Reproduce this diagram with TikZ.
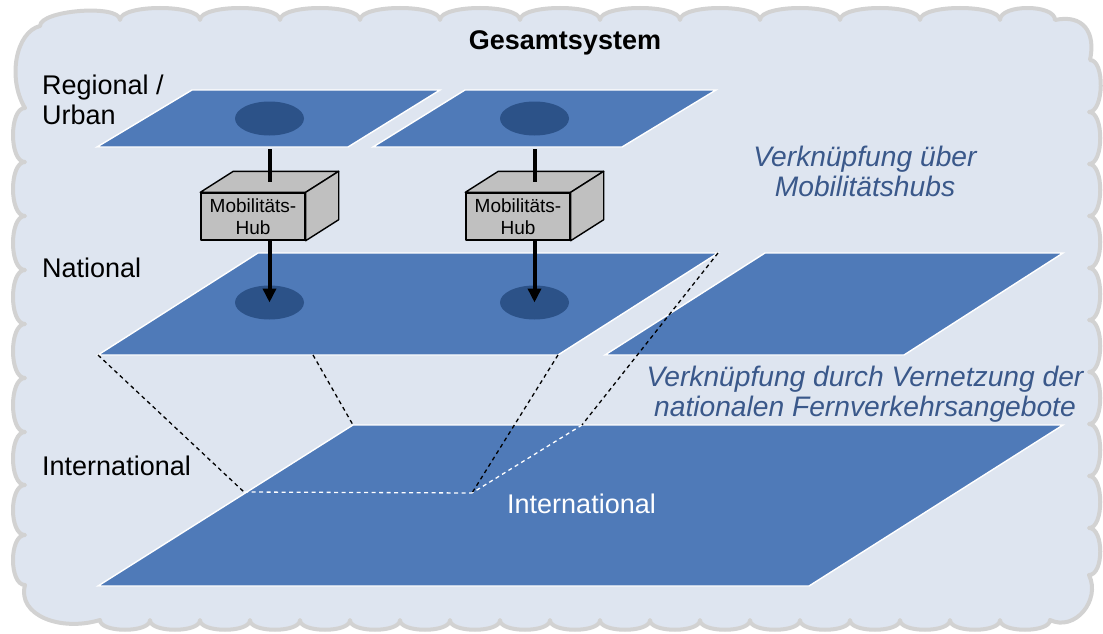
\documentclass[tikz,border=0pt]{standalone}
\usepackage{fontspec}
\setmainfont{Liberation Sans}
\usetikzlibrary{shapes.geometric,arrows.meta,calc}
\definecolor{cloudfill}{RGB}{222,229,240}
\definecolor{cloudline}{RGB}{210,210,210}
\definecolor{planeblue}{RGB}{79,122,184}
\definecolor{spotblue}{RGB}{44,82,136}
\definecolor{hubgray}{RGB}{192,192,192}
\definecolor{notecol}{RGB}{58,88,138}
\begin{document}
\begin{tikzpicture}[x=1pt,y=-1pt,
  planestyle/.style={fill=planeblue,draw=white,line width=1.4pt,line join=miter},
  spotstyle/.style={ellipse,fill=spotblue,minimum width=69pt,minimum height=34pt,inner sep=0pt},
  hubface/.style={fill=hubgray,draw=black,line width=1.4pt,line join=round},
  hubstyle/.style={rectangle,hubface,minimum width=104pt,minimum height=47pt,inner sep=0pt,align=center,font=\fontsize{19}{21.5}\selectfont},
  link/.style={line width=4pt},
  blackdash/.style={draw=black,line width=1.3pt,dash pattern=on 4pt off 3.5pt},
  whitedash/.style={draw=white,line width=1.3pt,dash pattern=on 4pt off 3.5pt},
  levellabel/.style={inner sep=0pt,font=\fontsize{27}{29.5}\selectfont,align=left},
  notestyle/.style={inner sep=0pt,align=center,text=notecol,font=\fontsize{28.2}{29.5}\selectfont\itshape},
]
\useasboundingbox (0,0) rectangle (1103,634);
\fill[white] (0,0) rectangle (1103,634);

% cloud background
\path[fill=cloudfill,draw=cloudline,line width=4pt,line join=round]
 (40,26)
 \foreach \x in {120,200,280,360,440,520,600,680,760,840,920,1000,1055} { .. controls +(0,-16) and +(0,-16) .. (\x,20) }
 .. controls +(28,-6) and +(6,-28) .. (1090,60)
 \foreach \y in {112,164,216,268,320,372,424,476,528,575} { .. controls +(15,0) and +(15,0) .. (1089,\y) }
 .. controls +(12,25) and +(25,12) .. (1050,620)
 \foreach \x in {1000,950,...,100} { .. controls +(0,13) and +(0,13) .. (\x,620) }
 .. controls +(-40,12) and +(-8,30) .. (25,585)
 \foreach \y in {535,485,432,378,324,270,216,162,108} { .. controls +(-16,0) and +(-16,0) .. (25,\y) }
 .. controls +(-18,-30) and +(-24,6) .. (40,26)
 -- cycle;

% plane corners
\coordinate (n1bl) at (98,355);
\coordinate (n1tl) at (258,253);
\coordinate (n1tr) at (718,253);
\coordinate (n1br) at (558,355);
\coordinate (n1mid) at (313,355);
\coordinate (itl) at (353,425);
\coordinate (itx) at (582,425);
\coordinate (ga) at (244,492);
\coordinate (gb) at (472,493);

% planes
\path[planestyle] (97,147) -- (192,90) -- (440,90) -- (348,147) -- cycle;
\path[planestyle] (373,147) -- (465,90) -- (716,90) -- (622,147) -- cycle;
\path[planestyle] (n1bl) -- (n1tl) -- (n1tr) -- (n1br) -- cycle;
\path[planestyle] (605,355) -- (765,253) -- (1063,253) -- (904,355) -- cycle;
\path[planestyle] (98,586) -- (itl) -- (1063,425) -- (809,586) -- cycle;

% projection lines
\draw[whitedash] (ga) -- (gb);
\draw[whitedash] (itx) -- (gb);
\draw[blackdash] (n1bl) -- (ga);
\draw[blackdash] (n1mid) -- (itl);
\draw[blackdash] (n1br) -- (gb);
\draw[blackdash] (n1tr) -- (itx);

% spots
\node[spotstyle] (r1spot) at (269.5,118.5) {};
\node[spotstyle] (r2spot) at (534.5,118.5) {};
\node[spotstyle] (n1spot) at (269.5,302.5) {};
\node[spotstyle] (n2spot) at (534.5,302.5) {};

% hubs
\node[hubstyle] (hub1) at (253,216.5) {Mobilitäts-\\Hub};
\node[hubstyle] (hub2) at (518,216.5) {Mobilitäts-\\Hub};
\foreach \h in {hub1,hub2} {
  \path[hubface] (\h.north west) -- ($(\h.north west)+(33,-21)$) -- ($(\h.north east)+(33,-21)$) -- (\h.north east) -- cycle;
  \path[hubface] (\h.north east) -- ($(\h.north east)+(33,-21)$) -- ($(\h.south east)+(33,-21)$) -- (\h.south east) -- cycle;
}
\coordinate (hub1top) at ($(hub1.north)+(16.5,-10.5)$);
\coordinate (hub2top) at ($(hub2.north)+(16.5,-10.5)$);
\coordinate (r1foot) at (269.5,149);
\coordinate (r2foot) at (534.5,149);

% connectors
\draw[link] (r1foot) -- (hub1top);
\draw[link] (r2foot) -- (hub2top);
\draw[link,-{Triangle[width=13pt,length=14pt]}] (hub1top |- hub1.south) -- (n1spot.center);
\draw[link,-{Triangle[width=13pt,length=14pt]}] (hub2top |- hub2.south) -- (n2spot.center);

% labels
\node[font=\fontsize{27}{30}\selectfont\bfseries,anchor=base,inner sep=0pt] (title) at (565,50) {Gesamtsystem};
\node[levellabel,anchor=north west] (lreg) at (42,75) {Regional /\\Urban};
\node[levellabel,anchor=base west] (lnat) at (42,277) {National};
\node[levellabel,anchor=base west] (lint) at (42,475) {International};
\node[notestyle,anchor=north] (note1) at (865,146) {Verknüpfung über\\Mobilitätshubs};
\node[notestyle,anchor=north] (note2) at (865,366) {Verknüpfung durch Vernetzung der\\nationalen Fernverkehrsangebote};
\node[inner sep=0pt,anchor=base,text=white,font=\fontsize{27}{29.5}\selectfont] (intl) at (581.5,513) {International};
\end{tikzpicture}
\end{document}
